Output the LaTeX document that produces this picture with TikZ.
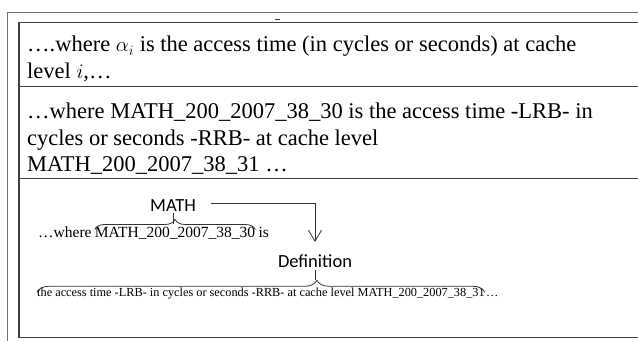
\documentclass[tikz,border=0pt]{standalone}
\usepackage{fontspec}
\setmainfont{Liberation Serif}
\newfontfamily\calib{Carlito}
\usetikzlibrary{arrows.meta,positioning,decorations.pathreplacing}

\begin{document}
\begin{tikzpicture}[x=1pt, y=1pt,
    line/.style={anchor=base west, inner sep=0pt, font=\fontsize{22.5}{27}\selectfont},
    small/.style={anchor=base west, inner sep=0pt, font=\fontsize{15.5}{18}\selectfont},
    tiny/.style={anchor=base west, inner sep=0pt, font=\fontsize{12.3}{15}\selectfont},
    tag/.style={anchor=base west, inner sep=0pt, font=\calib\fontsize{18.5}{22}\selectfont},
    bracket/.style={decorate, decoration={brace, amplitude=#1}, line width=0.8pt, draw=black!80}
]
    \useasboundingbox (0,0) rectangle (638,341);

    % Frame
    \draw[black!55, line width=0.8pt] (638,329) -- (7,329) -- (7,0);
    \draw[black!75, line width=1.3pt] (638,318.5) -- (19,318.5) -- (19,3.5) -- (638,3.5);
    \draw[black!75, line width=1pt] (19,255) -- (638,255);
    \draw[black!75, line width=1pt] (19,163) -- (638,163);
    \draw[black!80, line width=0.8pt] (275,321.5) -- (280,321.5);

    % Row 1
    \node[line] (r1a) at (27,289) {\dots.where $\alpha_i$ is the access time (in cycles or seconds) at cache};
    \node[line] (r1b) at (27,262) {level $i$,\dots};

    % Row 2
    \node[line] (r2a) at (27,223) {\dots where MATH\_200\_2007\_38\_30 is the access time -LRB- in};
    \node[line] (r2b) at (27,196) {cycles or seconds -RRB- at cache level};
    \node[line] (r2c) at (27,170) {MATH\_200\_2007\_38\_31 \dots};

    % Row 3
    \node[tag] (math) at (150,130) {MATH};
    \node[small] (where) at (38,104) {\dots where};
    \node[small] (word) at ([xshift=3pt]where.base east) {MATH\_200\_2007\_38\_30};
    \node[small] (is) at ([xshift=3pt]word.base east) {is};
    \node[tag, anchor=base] (definition) at (315,74) {Definition};
    \node[tiny] (defn) at (37,45) {the access time -LRB- in cycles or seconds -RRB- at cache level MATH\_200\_2007\_38\_31};
    \node[tiny] (dots) at ([xshift=1pt]defn.base east) {\dots};

    \draw[bracket=10pt] ([yshift=-3pt]word.north west) -- ([yshift=-3pt]word.north east);
    \draw[black!80, line width=0.8pt] ([yshift=-2pt]math.south) -- ([yshift=-13pt]math.south);
    \draw[black!80, line width=0.8pt, -{Straight Barb[length=11pt, width=13pt]}, shorten >=12pt]
        ([xshift=15pt, yshift=2pt]math.east) -| (definition.north);
    \draw[bracket=12pt, decoration={aspect=0.625}] ([yshift=-5pt]defn.north west) -- ([yshift=-5pt]defn.north east);
    \draw[black!80, line width=0.8pt] ([yshift=-3pt]definition.south) -- ([yshift=-13pt]definition.south);
\end{tikzpicture}
\end{document}
